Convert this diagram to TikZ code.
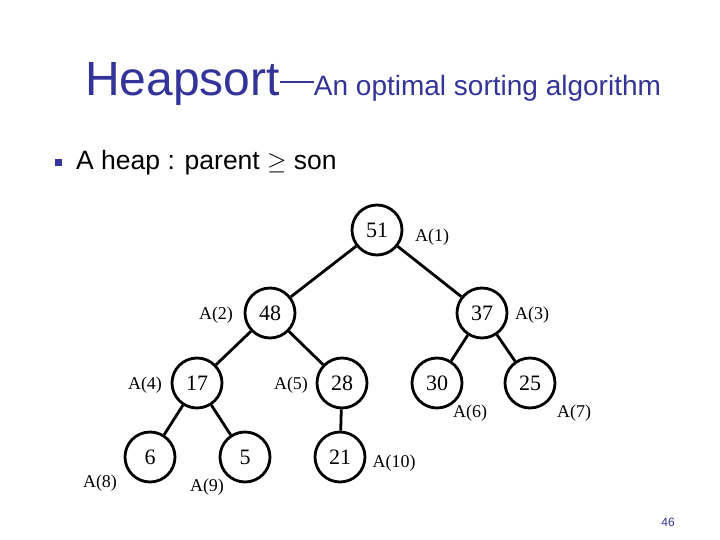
\documentclass[tikz,border=0pt]{standalone}
\usepackage{fontspec}
\setmainfont{Liberation Serif}
\newfontfamily\arial{Liberation Sans}
\newfontfamily\dv{DejaVu Sans}
\definecolor{tblue}{RGB}{51,51,153}
\begin{document}
\begin{tikzpicture}[x=1pt,y=-1pt,
  hn/.style={circle,draw,line width=2.8pt,minimum size=50pt,inner sep=0pt,font=\fontsize{22}{22}\selectfont},
  lab/.style={font=\fontsize{18}{18}\selectfont},
  edge/.style={line width=2.8pt}]
\useasboundingbox (0,0) rectangle (720,540);
\node[anchor=base west,text=tblue,inner sep=0pt] (title) at (85,96) {\arial\fontsize{48}{48}\selectfont Heapsort\fontsize{28}{28}\selectfont\raisebox{13pt}{\rule{34pt}{1.6pt}}An optimal sorting algorithm};
\node[fill=tblue,minimum size=7pt,inner sep=0pt] (bul) at (58,163) {};
\node[anchor=west,inner sep=0pt] (head) at (76,163) {\arial\fontsize{26.5}{26.5}\selectfont A heap : parent \dv$\geq$\arial{} son};
\node[hn] (n1) at (377,230) {51};
\node[hn] (n2) at (270,313) {48};
\node[hn] (n3) at (482,313) {37};
\node[hn] (n4) at (197,383) {17};
\node[hn] (n5) at (342,383) {28};
\node[hn] (n6) at (437,383) {30};
\node[hn] (n7) at (530,383) {25};
\node[hn] (n8) at (150,457) {6};
\node[hn] (n9) at (245,457) {5};
\node[hn] (n10) at (340,457) {21};
\draw[edge] (n1) -- (n2); \draw[edge] (n1) -- (n3);
\draw[edge] (n2) -- (n4); \draw[edge] (n2) -- (n5);
\draw[edge] (n3) -- (n6); \draw[edge] (n3) -- (n7);
\draw[edge] (n4) -- (n8); \draw[edge] (n4) -- (n9);
\draw[edge] (n5) -- (n10);
\node[lab] (l1) at (432,237) {A(1)};
\node[lab] (l2) at (216,315) {A(2)};
\node[lab] (l3) at (532,315) {A(3)};
\node[lab] (l4) at (145,385) {A(4)};
\node[lab] (l5) at (291,385) {A(5)};
\node[lab] (l6) at (470,413) {A(6)};
\node[lab] (l7) at (574,413) {A(7)};
\node[lab] (l8) at (100,483) {A(8)};
\node[lab] (l9) at (207,487) {A(9)};
\node[lab] (l10) at (394,463) {A(10)};
\node[text=tblue,font=\arial\fontsize{12}{12}\selectfont] (pg) at (668,522) {46};
\end{tikzpicture}
\end{document}
